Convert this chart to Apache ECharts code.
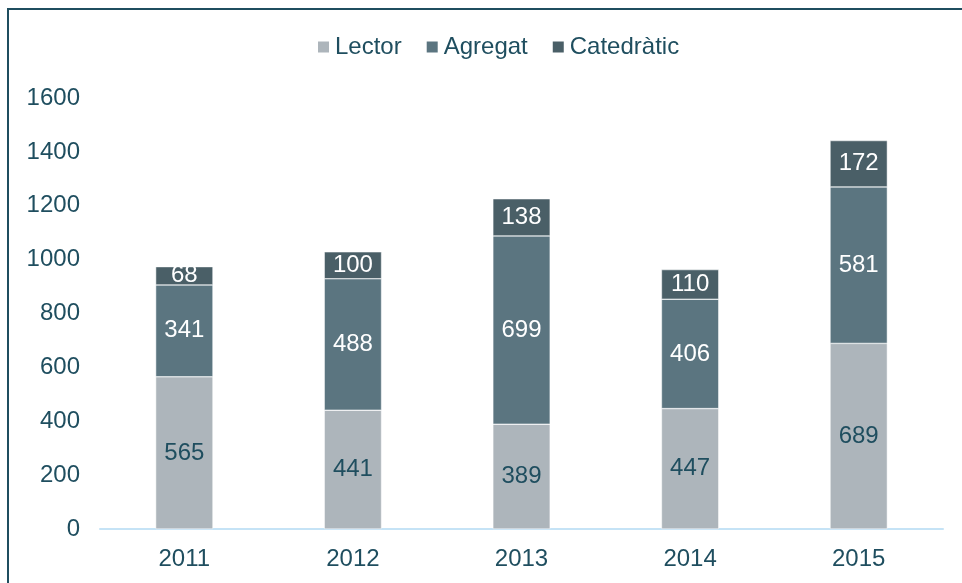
<!DOCTYPE html>
<html>
<head>
<meta charset="utf-8">
<script src="https://cdn.jsdelivr.net/npm/echarts@6/dist/echarts.min.js"></script>
<style>
  html, body { margin: 0; padding: 0; background: #fff; }
  #chart { width: 962px; height: 583px; }
</style>
</head>
<body>
<div id="chart"></div>
<script>
var years = ['2011', '2012', '2013', '2014', '2015'];
var lector = [565, 441, 389, 447, 689];
var agregat = [341, 488, 699, 406, 581];
var catedratic = [68, 100, 138, 110, 172];
var yTicks = [0, 200, 400, 600, 800, 1000, 1200, 1400, 1600];

var textColor = '#1f4e5f';
var font = 'Liberation Sans, Arial, sans-serif';

var chart = echarts.init(document.getElementById('chart'));

function barSeries(name, data, color, labelColor) {
    return {
        name: name,
        type: 'bar',
        stack: 'total',
        barWidth: '34%',
        data: data,
        itemStyle: { color: color, borderColor: '#ffffff', borderWidth: 0.5 },
        label: {
            show: true,
            position: 'inside',
            color: labelColor,
            fontSize: 24,
            fontFamily: font
        }
    };
}

chart.setOption({
    animation: false,
    graphic: [{
        type: 'rect',
        shape: { x: 8, y: 9, width: 1000, height: 1000 },
        style: { fill: 'none', stroke: '#1f4e5f', lineWidth: 2 },
        silent: true
    }],
    legend: {
        top: 30,
        left: 311,
        itemWidth: 13,
        itemHeight: 13,
        itemGap: 23,
        itemTextGap: 4,
        icon: 'rect',
        textStyle: { color: textColor, fontSize: 24, fontFamily: font },
        data: ['Lector', 'Agregat', 'Catedràtic']
    },
    grid: { left: 100, right: 19, top: 98, bottom: 54 },
    xAxis: {
        type: 'category',
        data: years,
        axisLine: { lineStyle: { color: '#c5e3f6', width: 2 } },
        axisTick: { show: false },
        axisLabel: { color: textColor, fontSize: 24, fontFamily: font, margin: 18 }
    },
    yAxis: {
        type: 'value',
        min: yTicks[0],
        max: yTicks[yTicks.length - 1],
        interval: 200,
        splitLine: { show: false },
        axisLine: { show: false },
        axisTick: { show: false },
        axisLabel: {
            color: textColor, fontSize: 24, fontFamily: font, margin: 20,
            formatter: function (v) { return String(v); }
        }
    },
    series: [
        barSeries('Lector', lector, '#adb5bb', textColor),
        barSeries('Agregat', agregat, '#5b7580', '#ffffff'),
        barSeries('Catedràtic', catedratic, '#4a5f67', '#ffffff')
    ]
});
</script>
</body>
</html>
